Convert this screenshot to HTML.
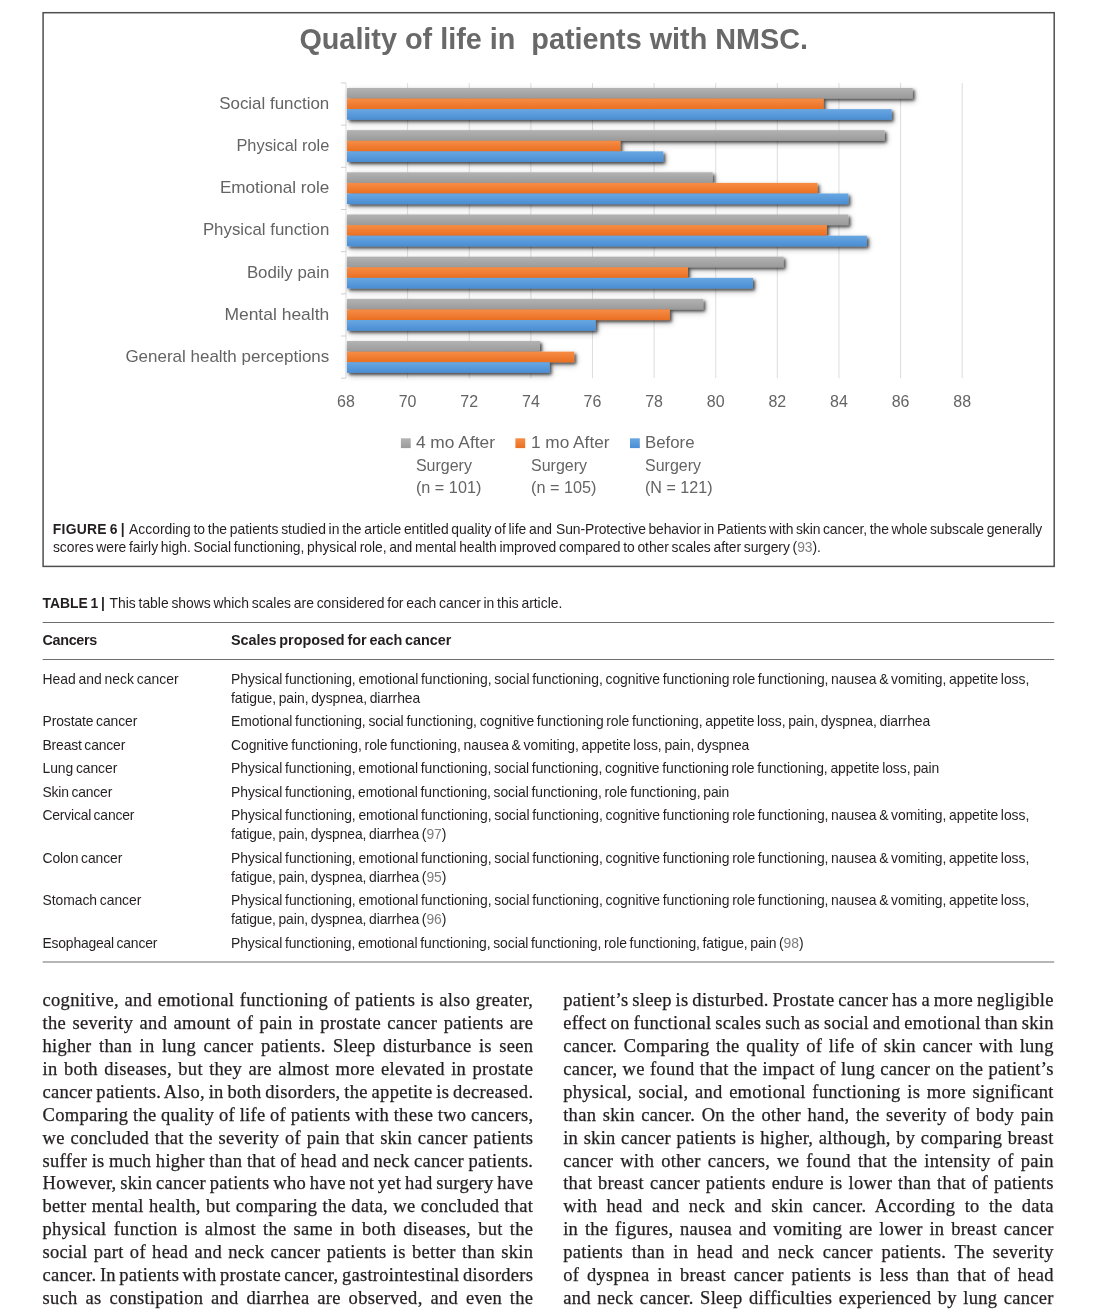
<!DOCTYPE html><html lang="en"><head><meta charset="utf-8"><title>Quality of life in patients with NMSC</title><style>

html,body{margin:0;padding:0;background:#fff;}
body{width:1100px;height:1314px;position:relative;overflow:hidden;}
.t{position:absolute;white-space:nowrap;line-height:1;margin:0;padding:0;}
.cap{font-family:"Liberation Sans", sans-serif;font-size:13.9px;word-spacing:-1.1px;color:#231f20;}
.cap b{font-weight:bold;margin-right:2.2px;}
.th{font-family:"Liberation Sans", sans-serif;font-size:14.4px;word-spacing:-1.1px;font-weight:bold;color:#231f20;}
.td{font-family:"Liberation Sans", sans-serif;font-size:13.9px;word-spacing:-1.1px;color:#231f20;}
.bd{font-family:"Liberation Serif", serif;font-size:18.5px;letter-spacing:0.28px;color:#231f20;-webkit-text-stroke:0.25px #231f20;}
.r{color:#7d7d7d;}
svg{position:absolute;left:0;top:0;}

</style></head><body>
<svg width="1100" height="980" viewBox="0 0 1100 980">
<defs>
<linearGradient id="gG" x1="0" y1="0" x2="0" y2="1"><stop offset="0" stop-color="#b3b3b3"/><stop offset="1" stop-color="#9a9a9a"/></linearGradient>
<linearGradient id="gO" x1="0" y1="0" x2="0" y2="1"><stop offset="0" stop-color="#f68d45"/><stop offset="1" stop-color="#ea6f22"/></linearGradient>
<linearGradient id="gB" x1="0" y1="0" x2="0" y2="1"><stop offset="0" stop-color="#68a7e2"/><stop offset="1" stop-color="#4a8dd3"/></linearGradient>
<filter id="sh" x="-5%" y="-50%" width="110%" height="220%"><feGaussianBlur in="SourceAlpha" stdDeviation="1.4"/><feOffset dx="1.6" dy="2.0" result="o1"/><feComponentTransfer in="o1" result="s1"><feFuncA type="linear" slope="0.62"/></feComponentTransfer><feGaussianBlur in="SourceAlpha" stdDeviation="3.4"/><feOffset dx="2.2" dy="2.8" result="o2"/><feComponentTransfer in="o2" result="s2"><feFuncA type="linear" slope="0.30"/></feComponentTransfer><feMerge><feMergeNode in="s2"/><feMergeNode in="s1"/><feMergeNode in="SourceGraphic"/></feMerge></filter>
</defs>
<rect x="43.1" y="12.7" width="1011.1" height="553.7" fill="none" stroke="#4f4f4f" stroke-width="1.5"/>
<line x1="42.6" y1="622.5" x2="1054.2" y2="622.5" stroke="#6e6e70" stroke-width="1.1"/>
<line x1="42.6" y1="659.5" x2="1054.2" y2="659.5" stroke="#6e6e70" stroke-width="1.1"/>
<line x1="42.6" y1="962.0" x2="1054.2" y2="962.0" stroke="#6e6e70" stroke-width="1.1"/>
<line x1="346.00" y1="83.0" x2="346.00" y2="378.2" stroke="#d9d9d9" stroke-width="0.9"/>
<line x1="407.62" y1="83.0" x2="407.62" y2="378.2" stroke="#d9d9d9" stroke-width="0.9"/>
<line x1="469.24" y1="83.0" x2="469.24" y2="378.2" stroke="#d9d9d9" stroke-width="0.9"/>
<line x1="530.86" y1="83.0" x2="530.86" y2="378.2" stroke="#d9d9d9" stroke-width="0.9"/>
<line x1="592.48" y1="83.0" x2="592.48" y2="378.2" stroke="#d9d9d9" stroke-width="0.9"/>
<line x1="654.10" y1="83.0" x2="654.10" y2="378.2" stroke="#d9d9d9" stroke-width="0.9"/>
<line x1="715.72" y1="83.0" x2="715.72" y2="378.2" stroke="#d9d9d9" stroke-width="0.9"/>
<line x1="777.34" y1="83.0" x2="777.34" y2="378.2" stroke="#d9d9d9" stroke-width="0.9"/>
<line x1="838.96" y1="83.0" x2="838.96" y2="378.2" stroke="#d9d9d9" stroke-width="0.9"/>
<line x1="900.58" y1="83.0" x2="900.58" y2="378.2" stroke="#d9d9d9" stroke-width="0.9"/>
<line x1="962.20" y1="83.0" x2="962.20" y2="378.2" stroke="#d9d9d9" stroke-width="0.9"/>
<line x1="341.0" y1="82.95" x2="346.0" y2="82.95" stroke="#d0d0d0" stroke-width="1"/>
<line x1="341.0" y1="125.13" x2="346.0" y2="125.13" stroke="#d0d0d0" stroke-width="1"/>
<line x1="341.0" y1="167.31" x2="346.0" y2="167.31" stroke="#d0d0d0" stroke-width="1"/>
<line x1="341.0" y1="209.49" x2="346.0" y2="209.49" stroke="#d0d0d0" stroke-width="1"/>
<line x1="341.0" y1="251.67" x2="346.0" y2="251.67" stroke="#d0d0d0" stroke-width="1"/>
<line x1="341.0" y1="293.85" x2="346.0" y2="293.85" stroke="#d0d0d0" stroke-width="1"/>
<line x1="341.0" y1="336.03" x2="346.0" y2="336.03" stroke="#d0d0d0" stroke-width="1"/>
<line x1="341.0" y1="378.21" x2="346.0" y2="378.21" stroke="#d0d0d0" stroke-width="1"/>
<g filter="url(#sh)">
<rect x="347.0" y="87.95" width="565.7" height="10.60" fill="url(#gG)"/>
<rect x="347.0" y="98.55" width="476.6" height="10.60" fill="url(#gO)"/>
<rect x="347.0" y="109.15" width="544.6" height="10.60" fill="url(#gB)"/>
</g>
<g filter="url(#sh)">
<rect x="347.0" y="130.13" width="537.7" height="10.60" fill="url(#gG)"/>
<rect x="347.0" y="140.73" width="273.3" height="10.60" fill="url(#gO)"/>
<rect x="347.0" y="151.33" width="316.3" height="10.60" fill="url(#gB)"/>
</g>
<g filter="url(#sh)">
<rect x="347.0" y="172.31" width="365.7" height="10.60" fill="url(#gG)"/>
<rect x="347.0" y="182.91" width="470.5" height="10.60" fill="url(#gO)"/>
<rect x="347.0" y="193.51" width="501.4" height="10.60" fill="url(#gB)"/>
</g>
<g filter="url(#sh)">
<rect x="347.0" y="214.49" width="501.4" height="10.60" fill="url(#gG)"/>
<rect x="347.0" y="225.09" width="479.9" height="10.60" fill="url(#gO)"/>
<rect x="347.0" y="235.69" width="519.9" height="10.60" fill="url(#gB)"/>
</g>
<g filter="url(#sh)">
<rect x="347.0" y="256.67" width="436.6" height="10.60" fill="url(#gG)"/>
<rect x="347.0" y="267.27" width="341.0" height="10.60" fill="url(#gO)"/>
<rect x="347.0" y="277.87" width="406.0" height="10.60" fill="url(#gB)"/>
</g>
<g filter="url(#sh)">
<rect x="347.0" y="298.85" width="356.3" height="10.60" fill="url(#gG)"/>
<rect x="347.0" y="309.45" width="322.8" height="10.60" fill="url(#gO)"/>
<rect x="347.0" y="320.05" width="248.6" height="10.60" fill="url(#gB)"/>
</g>
<g filter="url(#sh)">
<rect x="347.0" y="341.03" width="193.0" height="10.60" fill="url(#gG)"/>
<rect x="347.0" y="351.63" width="227.2" height="10.60" fill="url(#gO)"/>
<rect x="347.0" y="362.23" width="202.6" height="10.60" fill="url(#gB)"/>
</g>
<g font-family='"Liberation Sans", sans-serif' fill="#646464">
<text x="299.4" y="48.5" font-size="30.0" font-weight="bold" fill="#696969" textLength="508.6" lengthAdjust="spacingAndGlyphs" xml:space="preserve" style="white-space:pre">Quality of life in  patients with NMSC.</text>
<text x="219.2" y="108.9" font-size="17.0" textLength="110.1" lengthAdjust="spacingAndGlyphs">Social function</text>
<text x="236.4" y="151.1" font-size="17.0" textLength="92.9" lengthAdjust="spacingAndGlyphs">Physical role</text>
<text x="219.9" y="193.3" font-size="17.0" textLength="109.4" lengthAdjust="spacingAndGlyphs">Emotional role</text>
<text x="202.9" y="235.4" font-size="17.0" textLength="126.4" lengthAdjust="spacingAndGlyphs">Physical function</text>
<text x="246.9" y="277.6" font-size="17.0" textLength="82.4" lengthAdjust="spacingAndGlyphs">Bodily pain</text>
<text x="224.4" y="319.8" font-size="17.0" textLength="104.9" lengthAdjust="spacingAndGlyphs">Mental health</text>
<text x="125.4" y="362.0" font-size="17.0" textLength="203.9" lengthAdjust="spacingAndGlyphs">General health perceptions</text>
<text x="346.0" y="407.4" font-size="17.0" text-anchor="middle" textLength="17.8" lengthAdjust="spacingAndGlyphs">68</text>
<text x="407.6" y="407.4" font-size="17.0" text-anchor="middle" textLength="17.8" lengthAdjust="spacingAndGlyphs">70</text>
<text x="469.2" y="407.4" font-size="17.0" text-anchor="middle" textLength="17.8" lengthAdjust="spacingAndGlyphs">72</text>
<text x="530.9" y="407.4" font-size="17.0" text-anchor="middle" textLength="17.8" lengthAdjust="spacingAndGlyphs">74</text>
<text x="592.5" y="407.4" font-size="17.0" text-anchor="middle" textLength="17.8" lengthAdjust="spacingAndGlyphs">76</text>
<text x="654.1" y="407.4" font-size="17.0" text-anchor="middle" textLength="17.8" lengthAdjust="spacingAndGlyphs">78</text>
<text x="715.7" y="407.4" font-size="17.0" text-anchor="middle" textLength="17.8" lengthAdjust="spacingAndGlyphs">80</text>
<text x="777.3" y="407.4" font-size="17.0" text-anchor="middle" textLength="17.8" lengthAdjust="spacingAndGlyphs">82</text>
<text x="839.0" y="407.4" font-size="17.0" text-anchor="middle" textLength="17.8" lengthAdjust="spacingAndGlyphs">84</text>
<text x="900.6" y="407.4" font-size="17.0" text-anchor="middle" textLength="17.8" lengthAdjust="spacingAndGlyphs">86</text>
<text x="962.2" y="407.4" font-size="17.0" text-anchor="middle" textLength="17.8" lengthAdjust="spacingAndGlyphs">88</text>
<rect x="400.9" y="438.3" width="9.8" height="9.8" fill="url(#gG)"/>
<text x="415.9" y="448.3" font-size="17.0" textLength="79.1" lengthAdjust="spacingAndGlyphs">4 mo After</text>
<text x="415.9" y="470.7" font-size="17.0" textLength="56.0" lengthAdjust="spacingAndGlyphs">Surgery</text>
<text x="415.9" y="493.1" font-size="17.0" textLength="65.5" lengthAdjust="spacingAndGlyphs">(n = 101)</text>
<rect x="515.4" y="438.3" width="9.8" height="9.8" fill="url(#gO)"/>
<text x="531.0" y="448.3" font-size="17.0" textLength="78.5" lengthAdjust="spacingAndGlyphs">1 mo After</text>
<text x="531.0" y="470.7" font-size="17.0" textLength="56.0" lengthAdjust="spacingAndGlyphs">Surgery</text>
<text x="531.0" y="493.1" font-size="17.0" textLength="65.5" lengthAdjust="spacingAndGlyphs">(n = 105)</text>
<rect x="630.0" y="438.3" width="9.8" height="9.8" fill="url(#gB)"/>
<text x="645.0" y="448.3" font-size="17.0" textLength="49.5" lengthAdjust="spacingAndGlyphs">Before</text>
<text x="645.0" y="470.7" font-size="17.0" textLength="56.0" lengthAdjust="spacingAndGlyphs">Surgery</text>
<text x="645.0" y="493.1" font-size="17.0" textLength="67.5" lengthAdjust="spacingAndGlyphs">(N = 121)</text>
</g></svg>
<div class="t cap" id="l0" style="left:52.8px;top:522.70px;letter-spacing:-0.011px;"><b style="letter-spacing:0.25px">FIGURE 6 |</b> According to the patients studied in the article entitled quality of life and</div>
<div class="t cap" id="l1" style="left:556.0px;top:522.70px;letter-spacing:-0.095px;">Sun-Protective behavior in Patients with skin cancer, the whole subscale generally</div>
<div class="t cap" id="l2" style="left:52.9px;top:541.30px;letter-spacing:-0.039px;">scores were fairly high. Social functioning, physical role, and mental health improved compared to other scales after surgery (<span class="r">93</span>).</div>
<div class="t cap" id="l3" style="left:42.5px;top:597.20px;letter-spacing:-0.005px;"><b>TABLE 1 |</b> This table shows which scales are considered for each cancer in this article.</div>
<div class="t th" id="l4" style="left:42.5px;top:632.70px;letter-spacing:-0.333px;">Cancers</div>
<div class="t th" id="l5" style="left:231.0px;top:632.70px;letter-spacing:-0.029px;">Scales proposed for each cancer</div>
<div class="t td" id="l6" style="left:42.5px;top:673.00px;letter-spacing:0.021px;">Head and neck cancer</div>
<div class="t td" id="l7" style="left:231.0px;top:673.00px;letter-spacing:-0.041px;">Physical functioning, emotional functioning, social functioning, cognitive functioning role functioning, nausea &amp; vomiting, appetite loss,</div>
<div class="t td" id="l8" style="left:231.0px;top:692.10px;letter-spacing:-0.068px;">fatigue, pain, dyspnea, diarrhea</div>
<div class="t td" id="l9" style="left:42.5px;top:715.00px;letter-spacing:-0.099px;">Prostate cancer</div>
<div class="t td" id="l10" style="left:231.0px;top:715.00px;letter-spacing:-0.041px;">Emotional functioning, social functioning, cognitive functioning role functioning, appetite loss, pain, dyspnea, diarrhea</div>
<div class="t td" id="l11" style="left:42.5px;top:738.50px;letter-spacing:-0.151px;">Breast cancer</div>
<div class="t td" id="l12" style="left:231.0px;top:738.50px;letter-spacing:-0.040px;">Cognitive functioning, role functioning, nausea &amp; vomiting, appetite loss, pain, dyspnea</div>
<div class="t td" id="l13" style="left:42.5px;top:762.00px;letter-spacing:-0.056px;">Lung cancer</div>
<div class="t td" id="l14" style="left:231.0px;top:762.00px;letter-spacing:-0.048px;">Physical functioning, emotional functioning, social functioning, cognitive functioning role functioning, appetite loss, pain</div>
<div class="t td" id="l15" style="left:42.5px;top:785.50px;letter-spacing:-0.168px;">Skin cancer</div>
<div class="t td" id="l16" style="left:231.0px;top:785.50px;letter-spacing:-0.056px;">Physical functioning, emotional functioning, social functioning, role functioning, pain</div>
<div class="t td" id="l17" style="left:42.5px;top:808.80px;letter-spacing:-0.202px;">Cervical cancer</div>
<div class="t td" id="l18" style="left:231.0px;top:808.80px;letter-spacing:-0.041px;">Physical functioning, emotional functioning, social functioning, cognitive functioning role functioning, nausea &amp; vomiting, appetite loss,</div>
<div class="t td" id="l19" style="left:231.0px;top:827.90px;letter-spacing:-0.097px;">fatigue, pain, dyspnea, diarrhea (<span class="r">97</span>)</div>
<div class="t td" id="l20" style="left:42.5px;top:851.50px;letter-spacing:-0.086px;">Colon cancer</div>
<div class="t td" id="l21" style="left:231.0px;top:851.50px;letter-spacing:-0.041px;">Physical functioning, emotional functioning, social functioning, cognitive functioning role functioning, nausea &amp; vomiting, appetite loss,</div>
<div class="t td" id="l22" style="left:231.0px;top:870.60px;letter-spacing:-0.097px;">fatigue, pain, dyspnea, diarrhea (<span class="r">95</span>)</div>
<div class="t td" id="l23" style="left:42.5px;top:893.70px;letter-spacing:-0.037px;">Stomach cancer</div>
<div class="t td" id="l24" style="left:231.0px;top:893.70px;letter-spacing:-0.041px;">Physical functioning, emotional functioning, social functioning, cognitive functioning role functioning, nausea &amp; vomiting, appetite loss,</div>
<div class="t td" id="l25" style="left:231.0px;top:912.80px;letter-spacing:-0.097px;">fatigue, pain, dyspnea, diarrhea (<span class="r">96</span>)</div>
<div class="t td" id="l26" style="left:42.5px;top:936.50px;letter-spacing:-0.189px;">Esophageal cancer</div>
<div class="t td" id="l27" style="left:231.0px;top:936.50px;letter-spacing:-0.064px;">Physical functioning, emotional functioning, social functioning, role functioning, fatigue, pain (<span class="r">98</span>)</div>
<div class="t bd" id="l28" style="left:42.6px;top:991.40px;word-spacing:0.714px;">cognitive, and emotional functioning of patients is also greater,</div>
<div class="t bd" id="l29" style="left:42.6px;top:1014.28px;word-spacing:1.484px;">the severity and amount of pain in prostate cancer patients are</div>
<div class="t bd" id="l30" style="left:42.6px;top:1037.16px;word-spacing:2.590px;">higher than in lung cancer patients. Sleep disturbance is seen</div>
<div class="t bd" id="l31" style="left:42.6px;top:1060.04px;word-spacing:1.428px;">in both diseases, but they are almost more elevated in prostate</div>
<div class="t bd" id="l32" style="left:42.6px;top:1082.92px;word-spacing:-1.078px;">cancer patients. Also, in both disorders, the appetite is decreased.</div>
<div class="t bd" id="l33" style="left:42.6px;top:1105.80px;word-spacing:-0.272px;">Comparing the quality of life of patients with these two cancers,</div>
<div class="t bd" id="l34" style="left:42.6px;top:1128.68px;word-spacing:0.839px;">we concluded that the severity of pain that skin cancer patients</div>
<div class="t bd" id="l35" style="left:42.6px;top:1151.56px;word-spacing:-0.353px;">suffer is much higher than that of head and neck cancer patients.</div>
<div class="t bd" id="l36" style="left:42.6px;top:1174.44px;word-spacing:-1.133px;">However, skin cancer patients who have not yet had surgery have</div>
<div class="t bd" id="l37" style="left:42.6px;top:1197.32px;word-spacing:0.335px;">better mental health, but comparing the data, we concluded that</div>
<div class="t bd" id="l38" style="left:42.6px;top:1220.20px;word-spacing:2.273px;">physical function is almost the same in both diseases, but the</div>
<div class="t bd" id="l39" style="left:42.6px;top:1243.08px;word-spacing:1.370px;">social part of head and neck cancer patients is better than skin</div>
<div class="t bd" id="l40" style="left:42.6px;top:1265.96px;word-spacing:-1.427px;">cancer. In patients with prostate cancer, gastrointestinal disorders</div>
<div class="t bd" id="l41" style="left:42.6px;top:1288.84px;word-spacing:2.998px;">such as constipation and diarrhea are observed, and even the</div>
<div class="t bd" id="l42" style="left:563.2px;top:991.40px;word-spacing:-1.014px;">patient’s sleep is disturbed. Prostate cancer has a more negligible</div>
<div class="t bd" id="l43" style="left:563.2px;top:1014.28px;word-spacing:-0.953px;">effect on functional scales such as social and emotional than skin</div>
<div class="t bd" id="l44" style="left:563.2px;top:1037.16px;word-spacing:1.745px;">cancer. Comparing the quality of life of skin cancer with lung</div>
<div class="t bd" id="l45" style="left:563.2px;top:1060.04px;word-spacing:0.345px;">cancer, we found that the impact of lung cancer on the patient’s</div>
<div class="t bd" id="l46" style="left:563.2px;top:1082.92px;word-spacing:1.714px;">physical, social, and emotional functioning is more significant</div>
<div class="t bd" id="l47" style="left:563.2px;top:1105.80px;word-spacing:1.679px;">than skin cancer. On the other hand, the severity of body pain</div>
<div class="t bd" id="l48" style="left:563.2px;top:1128.68px;word-spacing:0.587px;">in skin cancer patients is higher, although, by comparing breast</div>
<div class="t bd" id="l49" style="left:563.2px;top:1151.56px;word-spacing:2.159px;">cancer with other cancers, we found that the intensity of pain</div>
<div class="t bd" id="l50" style="left:563.2px;top:1174.44px;word-spacing:1.100px;">that breast cancer patients endure is lower than that of patients</div>
<div class="t bd" id="l51" style="left:563.2px;top:1197.32px;word-spacing:4.456px;">with head and neck and skin cancer. According to the data</div>
<div class="t bd" id="l52" style="left:563.2px;top:1220.20px;word-spacing:1.852px;">in the figures, nausea and vomiting are lower in breast cancer</div>
<div class="t bd" id="l53" style="left:563.2px;top:1243.08px;word-spacing:3.812px;">patients than in head and neck cancer patients. The severity</div>
<div class="t bd" id="l54" style="left:563.2px;top:1265.96px;word-spacing:2.895px;">of dyspnea in breast cancer patients is less than that of head</div>
<div class="t bd" id="l55" style="left:563.2px;top:1288.84px;word-spacing:1.592px;">and neck cancer. Sleep difficulties experienced by lung cancer</div>
</body></html>
